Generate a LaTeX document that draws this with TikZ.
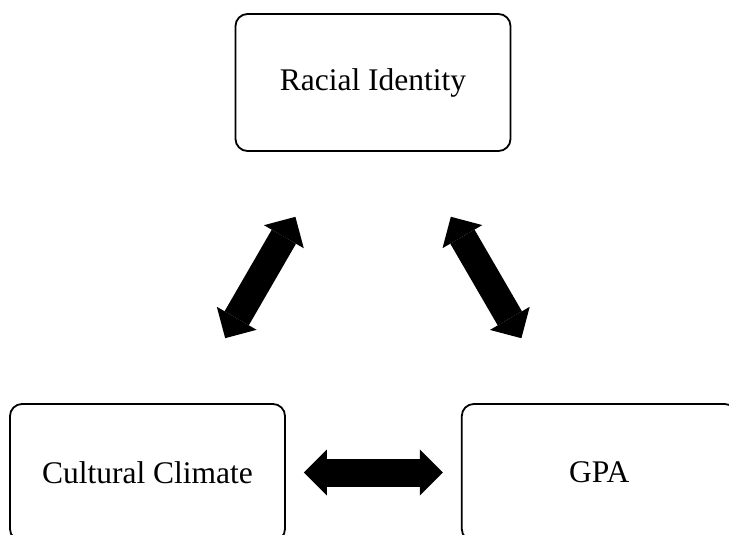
\documentclass[tikz,border=0pt]{standalone}
\usepackage{fontspec}
\setmainfont{Liberation Serif}
\usetikzlibrary{arrows.meta,positioning}

\begin{document}
\begin{tikzpicture}[
	x=1pt, y=1pt,
	node distance=175pt,
	box/.style={rectangle, rounded corners=12pt, draw, line width=1.8pt, align=center, minimum width=275pt, minimum height=137pt, font=\fontsize{31.5}{38}\selectfont},
	link/.style={line width=28pt, >={Triangle[width=46pt,length=23pt,line width=0pt]}, <->}
]
\useasboundingbox (0,0) rectangle (729,-535);
\clip (0,0) rectangle (729,-535);
\node[box] (race) at (373,-82.5) {Racial Identity};
\node[box] (climate) at (147.5,-472.5) {Cultural Climate};
\node[box, right=of climate] (gpa) {GPA};

\draw[link, shorten <=75pt, shorten >=75pt] (race) -- (climate);
\draw[link, shorten <=75pt, shorten >=75pt] (race) -- (gpa);
\draw[link, shorten <=18pt, shorten >=18pt] (climate) -- (gpa);
\end{tikzpicture}
\end{document}
